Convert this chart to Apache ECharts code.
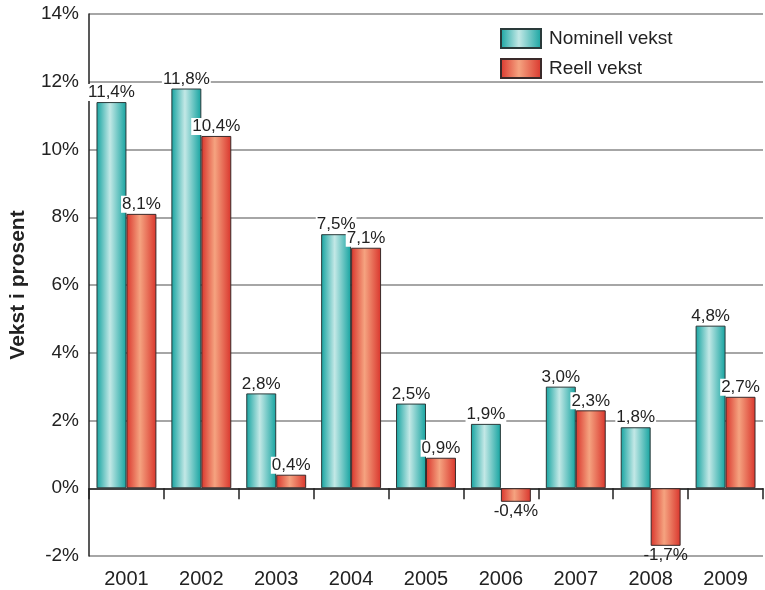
<!DOCTYPE html>
<html><head><meta charset="utf-8">
<script src="https://cdn.jsdelivr.net/npm/echarts@6/dist/echarts.min.js"></script>
<style>html,body{margin:0;padding:0;background:#fff}#c{width:765px;height:590px}</style>
</head><body><div id="c"></div>
<script>
const years = ['2001','2002','2003','2004','2005','2006','2007','2008','2009'];
const nominell = [11.4, 11.8, 2.8, 7.5, 2.5, 1.9, 3.0, 1.8, 4.8];
const reell = [8.1, 10.4, 0.4, 7.1, 0.9, -0.4, 2.3, -1.7, 2.7];
const seriesNames = ['Nominell vekst', 'Reell vekst'];
const yTicks = { min: -2, max: 14, interval: 2 };

const FONT = 'Liberation Sans';
const fmt = v => v.toFixed(1).replace('.', ',') + '%';
function grad(edge, mid) {
  return new echarts.graphic.LinearGradient(0, 0, 1, 0, [
    {offset: 0, color: edge}, {offset: 0.45, color: mid}, {offset: 1, color: edge}
  ]);
}
function items(arr) {
  return arr.map(v => v < 0
    ? {value: v, label: {position: 'bottom', backgroundColor: 'transparent'}}
    : {value: v});
}
const labelCfg = {
  show: true, position: 'top', distance: 1, formatter: p => fmt(p.value),
  fontFamily: FONT, fontSize: 17, color: '#222', backgroundColor: '#fff', padding: [0, 1, 0, 1]
};
const chart = echarts.init(document.getElementById('c'));
chart.setOption({
  animation: false,
  grid: {left: 87, top: 14, right: 2, bottom: 34, containLabel: false},
  legend: {
    data: seriesNames, orient: 'vertical', left: 495, top: 23, icon: 'rect',
    itemWidth: 40, itemHeight: 19, itemGap: 9,
    textStyle: {fontFamily: FONT, fontSize: 19, lineHeight: 19, color: '#222', padding: [0, 0, 0, 3]}
  },
  xAxis: [{
    type: 'category', data: years, position: 'bottom',
    axisLine: {show: false, onZero: false}, axisTick: {show: false},
    axisLabel: {fontFamily: FONT, fontSize: 20, color: '#222', margin: 13}
  }, {
    type: 'category', data: years, position: 'bottom',
    axisLine: {show: true, onZero: true, lineStyle: {color: '#222', width: 1.5}},
    axisTick: {show: true, length: 11, lineStyle: {color: '#222', width: 1.5}},
    axisLabel: {show: false}
  }],
  yAxis: {
    type: 'value', min: yTicks.min, max: yTicks.max, interval: yTicks.interval,
    name: 'Vekst i prosent', nameLocation: 'middle', nameGap: 60,
    nameTextStyle: {fontFamily: FONT, fontSize: 21, fontWeight: 'bold', color: '#222'},
    axisLine: {show: true, lineStyle: {color: '#222', width: 1.5}},
    axisTick: {show: false},
    axisLabel: {fontFamily: FONT, fontSize: 19, color: '#222', margin: 10, formatter: v => v + '%'},
    splitLine: {show: true, lineStyle: {color: '#888', width: 1.5}}
  },
  series: [{
    name: seriesNames[0], type: 'bar', xAxisIndex: 0, data: items(nominell),
    barGap: '0%', barCategoryGap: '20%',
    itemStyle: {color: grad('#14a3a0', '#c3e8e6'), borderColor: '#2a3a3a', borderWidth: 1},
    label: labelCfg
  }, {
    name: seriesNames[1], type: 'bar', xAxisIndex: 0, data: items(reell),
    barGap: '0%', barCategoryGap: '20%',
    itemStyle: {color: grad('#d9352c', '#f5a380'), borderColor: '#3a2a2a', borderWidth: 1},
    label: labelCfg
  }]
});
</script></body></html>
